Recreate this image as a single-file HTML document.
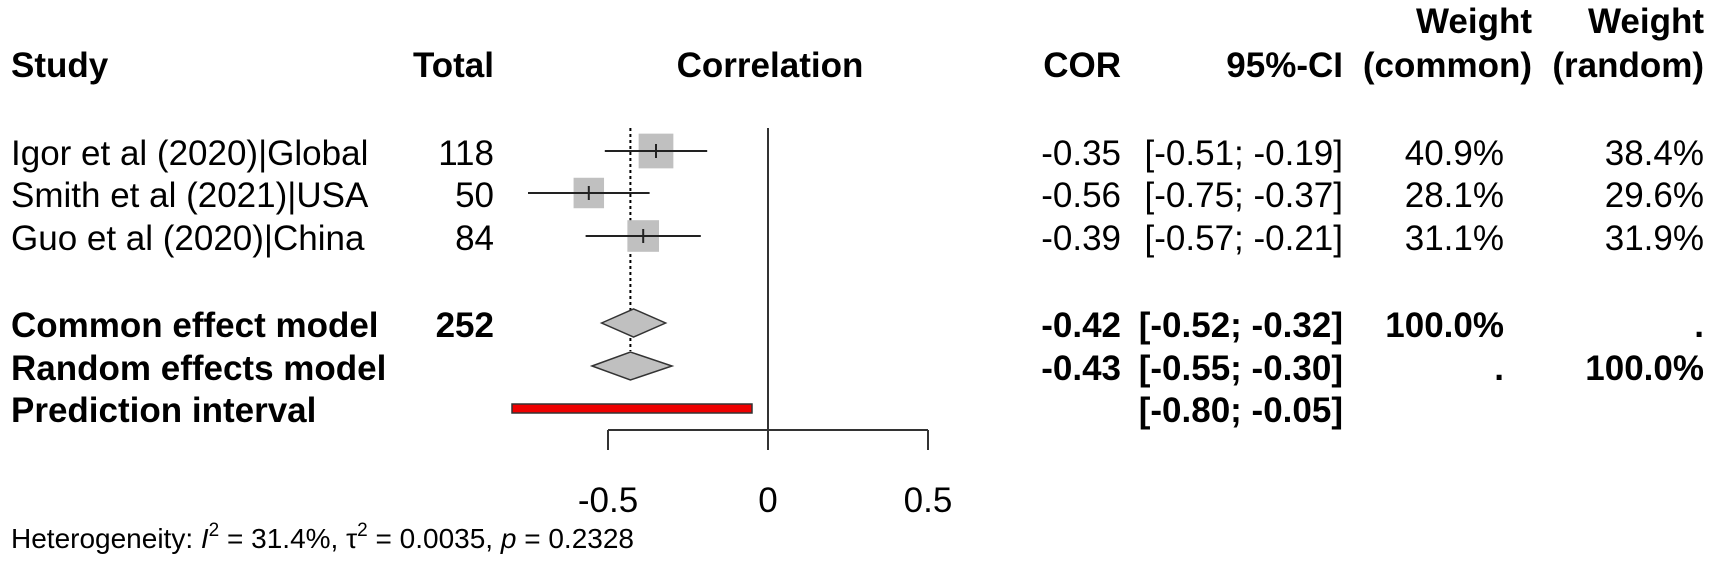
<!DOCTYPE html>
<html><head><meta charset="utf-8"><style>
html,body{margin:0;padding:0;background:#fff;}
svg{display:block;font-family:"Liberation Sans",Arial,sans-serif;}
</style></head><body>
<svg id="fp" width="1713" height="569" viewBox="0 0 1713 569">
<g id="txt" font-size="35" fill="#000"></g>
<g id="marks"></g>
</svg>
<script>
const studies = ["Igor et al (2020)|Global","Smith et al (2021)|USA","Guo et al (2020)|China"];
const totals = ["118","50","84"];
const est = [-0.35,-0.56,-0.39];
const lo = [-0.51,-0.75,-0.57];
const hi = [-0.19,-0.37,-0.21];
const wCommon = ["40.9%","28.1%","31.1%"];
const wRandom = [38.4,29.6,31.9];
const common = [-0.42,-0.52,-0.32];
const random = [-0.43,-0.55,-0.30];
const predInt = [-0.80,-0.05];
const ticks = [-0.5,0,0.5];
const tickLabels = ["-0.5","0","0.5"];

const NS="http://www.w3.org/2000/svg";
const svg=document.getElementById('fp');
const tg=document.getElementById('txt');
const mg=document.getElementById('marks');
const X=v=>768+v*320;
const rowY=[151,193,236];
const f2=v=>v.toFixed(2);
function el(tag,attrs,parent){const e=document.createElementNS(NS,tag);for(const k in attrs)e.setAttribute(k,attrs[k]);parent.appendChild(e);return e;}
function txt(s,x,y,anchor,bold,name){
  const t=el('text',{x:x,y:y,'text-anchor':anchor||'start'},tg);
  if(bold)t.setAttribute('font-weight','bold');
  t.textContent=s;
  
  
  return t;
}
// headers
txt("Study",11,77,'start',true,'study-header');
txt("Total",494,77,'end',true,'total-header');
txt("Correlation",770,77,'middle',true,'correlation-header');
txt("COR",1121,77,'end',true,'cor-header');
txt("95%-CI",1343,77,'end',true,'ci-header');
txt("Weight",1532,33,'end',true,'weight-common-header-1');
txt("(common)",1532,77,'end',true,'weight-common-header-2');
txt("Weight",1704,33,'end',true,'weight-random-header-1');
txt("(random)",1704,77,'end',true,'weight-random-header-2');

const zl=el('line',{x1:X(0),x2:X(0),y1:128,y2:429,stroke:'#333','stroke-width':2},mg);


const dl=el('line',{x1:X(random[0]),x2:X(random[0]),y1:128,y2:351,stroke:'#000','stroke-width':2,'stroke-dasharray':'3,3'},mg);



studies.forEach((s,i)=>{
  const y=rowY[i];
  txt(s,11,y+14,'start',false,'study-label');
  txt(totals[i],494,y+14,'end',false,'study-total');
  txt(f2(est[i]),1121,y+14,'end',false,'study-cor');
  txt("["+f2(lo[i])+"; "+f2(hi[i])+"]",1343,y+14,'end',false,'study-ci');
  txt(wCommon[i],1504,y+14,'end',false,'study-weight-common');
  txt(wRandom[i].toFixed(1)+"%",1704,y+14,'end',false,'study-weight-random');
  const side=5.6*Math.sqrt(wRandom[i]);
  const b=el('rect',{x:X(est[i])-side/2,y:y-side/2,width:side,height:side,fill:'#c0c0c0'},mg);
  
  
  const l=el('line',{x1:X(lo[i]),x2:X(hi[i]),y1:y,y2:y,stroke:'#222','stroke-width':2},mg);
  
  
  const t=el('line',{x1:X(est[i]),x2:X(est[i]),y1:y-7,y2:y+7,stroke:'#222','stroke-width':2},mg);
  
  
});

function diamond(v,y,name){
  const p=el('polygon',{points:`${X(v[1])},${y} ${X(v[0])},${y-14} ${X(v[2])},${y} ${X(v[0])},${y+14}`,fill:'#c0c0c0',stroke:'#333','stroke-width':1.5},mg);
  
  
}
diamond(common,323,'common-effect-diamond');
diamond(random,366,'random-effects-diamond');

txt("Common effect model",11,337,'start',true,'common-label');
txt("252",494,337,'end',true,'common-total');
txt(f2(common[0]),1121,337,'end',true,'common-cor');
txt("["+f2(common[1])+"; "+f2(common[2])+"]",1343,337,'end',true,'common-ci');
txt("100.0%",1504,337,'end',true,'common-weight');
txt(".",1704,337,'end',true,'common-weight-random');
txt("Random effects model",11,380,'start',true,'random-label');
txt(f2(random[0]),1121,380,'end',true,'random-cor');
txt("["+f2(random[1])+"; "+f2(random[2])+"]",1343,380,'end',true,'random-ci');
txt(".",1504,380,'end',true,'random-weight-common');
txt("100.0%",1704,380,'end',true,'random-weight');
txt("Prediction interval",11,422,'start',true,'prediction-label');
txt("["+f2(predInt[0])+"; "+f2(predInt[1])+"]",1343,422,'end',true,'prediction-ci');

const pb=el('rect',{x:X(predInt[0]),y:404,width:X(predInt[1])-X(predInt[0]),height:9,fill:'#ee0000',stroke:'#333','stroke-width':1.5},mg);



const ax=el('line',{x1:X(ticks[0]),x2:X(ticks[ticks.length-1]),y1:430,y2:430,stroke:'#333','stroke-width':2},mg);


ticks.forEach((v,i)=>{
  const tk=el('line',{x1:X(v),x2:X(v),y1:430,y2:450,stroke:'#333','stroke-width':2},mg);
  
  
  txt(tickLabels[i],X(v),512,'middle',false,'x-tick-label');
});

const ft=el('text',{x:11,y:548,'font-size':28},tg);


ft.innerHTML='Heterogeneity: <tspan font-style="italic">I</tspan><tspan dy="-12" font-size="19">2</tspan><tspan dy="12"> = 31.4%, τ</tspan><tspan dy="-12" font-size="19">2</tspan><tspan dy="12"> = 0.0035, </tspan><tspan font-style="italic">p</tspan> = 0.2328';
</script>
</body></html>
